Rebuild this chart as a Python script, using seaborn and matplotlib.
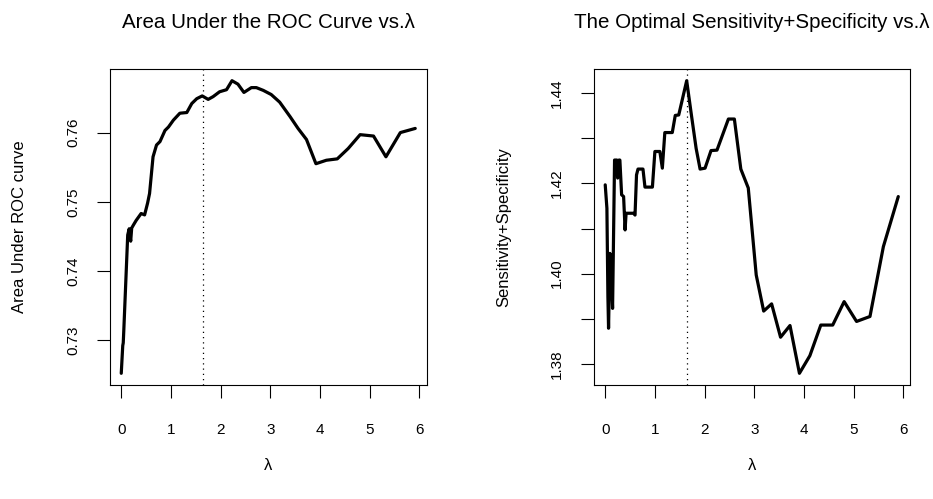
import numpy as np
import pandas as pd
import matplotlib
matplotlib.use("Agg")
import matplotlib.pyplot as plt
import seaborn as sns

# ---- data ----
lam_auc = [0.0, 0.03, 0.04, 0.05, 0.13, 0.16, 0.19, 0.21, 0.25, 0.30,
           0.35, 0.40, 0.47, 0.53, 0.57, 0.64, 0.71, 0.78, 0.88, 0.95,
           1.05, 1.18, 1.32, 1.42, 1.52, 1.63, 1.75, 1.85, 1.98, 2.12,
           2.23, 2.35, 2.47, 2.62, 2.72, 2.86, 3.02, 3.19, 3.40, 3.56,
           3.73, 3.92, 4.13, 4.35, 4.57, 4.81, 5.08, 5.33, 5.62, 5.92]
auc = [0.7252, 0.7292, 0.7296, 0.7312, 0.7452, 0.7461, 0.7443, 0.7462, 0.7467, 0.7473,
       0.7478, 0.7483, 0.7481, 0.7498, 0.7512, 0.7565, 0.7582, 0.7587, 0.7603, 0.7608,
       0.7618, 0.7628, 0.7629, 0.7642, 0.7649, 0.7653, 0.7648, 0.7652, 0.7659, 0.7662,
       0.7675, 0.7670, 0.7658, 0.7665, 0.7665, 0.7661, 0.7655, 0.7644, 0.7623, 0.7606,
       0.7590, 0.7555, 0.7560, 0.7562, 0.7577, 0.7597, 0.7595, 0.7565, 0.7600, 0.7606]

lam_ss = [0.0, 0.034, 0.054, 0.067, 0.094, 0.121, 0.148, 0.188, 0.235, 0.25,
          0.275, 0.295, 0.33, 0.37, 0.40, 0.42, 0.57, 0.60, 0.63, 0.66,
          0.76, 0.80, 0.95, 1.0, 1.1, 1.15, 1.2, 1.35, 1.41, 1.48,
          1.64, 1.73, 1.83, 1.91, 2.01, 2.13, 2.25, 2.48, 2.60, 2.73,
          2.88, 3.04, 3.19, 3.35, 3.53, 3.72, 3.91, 4.12, 4.34, 4.58,
          4.81, 5.06, 5.33, 5.60, 5.90]
ss = [1.4197, 1.4145, 1.3949, 1.3879, 1.4045, 1.4004, 1.3923, 1.4252, 1.4252, 1.4212,
      1.4252, 1.4252, 1.4175, 1.4171, 1.4097, 1.4134, 1.4134, 1.4130, 1.4219, 1.4232,
      1.4232, 1.4192, 1.4192, 1.4271, 1.4271, 1.4234, 1.4313, 1.4313, 1.4351, 1.4352,
      1.4428, 1.4356, 1.4278, 1.4232, 1.4234, 1.4273, 1.4274, 1.4343, 1.4343, 1.4232,
      1.4190, 1.3997, 1.3917, 1.3933, 1.3859, 1.3885, 1.3779, 1.3818, 1.3886, 1.3886,
      1.3938, 1.3894, 1.3905, 1.4060, 1.4171]

opt_lambda = 1.64

x_ticks = [0, 1, 2, 3, 4, 5, 6]
x_ticklabels = ["0", "1", "2", "3", "4", "5", "6"]
auc_ticks = [0.73, 0.74, 0.75, 0.76]
auc_ticklabels = ["0.73", "0.74", "0.75", "0.76"]
ss_ticks = [1.38, 1.39, 1.40, 1.41, 1.42, 1.43, 1.44]
ss_ticklabels = ["1.38", "", "1.40", "", "1.42", "", "1.44"]

titles = ["Area Under the ROC Curve vs.\u03bb",
          "The Optimal Sensitivity+Specificity vs.\u03bb"]
ylabels = ["Area Under ROC curve", "Sensitivity+Specificity"]
xlabel = "\u03bb"

# ---- style ----
sns.set_style("white")
plt.rcParams["font.family"] = ["Liberation Sans", "DejaVu Sans"]
plt.rcParams.update({"text.color": "black", "axes.labelcolor": "black",
                     "xtick.color": "black", "ytick.color": "black",
                     "axes.edgecolor": "black"})

W, H = 933, 499
fig = plt.figure(figsize=(W / 100, H / 100), dpi=100)

def px_axes(x0, y0, x1, y1):
    return fig.add_axes([x0 / W, 1 - y1 / H, (x1 - x0) / W, (y1 - y0) / H])

ax1 = px_axes(109.5, 69, 427, 385)
ax2 = px_axes(593.5, 69, 910, 385)

def r_lim(vals):
    lo, hi = min(vals), max(vals)
    pad = 0.04 * (hi - lo)
    return lo - pad, hi + pad

panels = [
    (ax1, lam_auc, auc, auc_ticks, auc_ticklabels, titles[0], ylabels[0]),
    (ax2, lam_ss, ss, ss_ticks, ss_ticklabels, titles[1], ylabels[1]),
]

for ax, lx, ly, yt, ytl, title, ylab in panels:
    df = pd.DataFrame({"lam": lx, "val": ly})
    sns.lineplot(data=df, x="lam", y="val", ax=ax, color="black",
                 linewidth=2.3, sort=False, estimator=None)
    ax.axvline(opt_lambda, color="black", linewidth=0.9, linestyle=(0, (1, 3.2)))
    ax.set_xlim(*r_lim(lx))
    ax.set_ylim(*r_lim(ly))
    ax.set_xticks(x_ticks)
    ax.set_xticklabels(x_ticklabels, fontsize=11, color="black")
    ax.set_yticks(yt)
    ax.set_yticklabels(ytl, fontsize=11, rotation=90, va="center", color="black")
    ax.tick_params(axis="both", direction="out", length=9.5, width=0.8,
                   color="black", labelcolor="black", bottom=True, left=True)
    ax.tick_params(axis="x", pad=17.5)
    ax.tick_params(axis="y", pad=11.5)
    for s in ax.spines.values():
        s.set_visible(True)
        s.set_color("black")
        s.set_linewidth(0.8)
    ax.set_xlabel("")
    ax.set_ylabel("")
    ax.set_facecolor("white")
    # title, axis labels placed like R's margin text
    bb = ax.get_position()
    cx = (bb.x0 + bb.x1) / 2
    cy = (bb.y0 + bb.y1) / 2
    fig.text(cx, 1 - 22 / H, title, ha="center", va="center", fontsize=14.8,
             color="black")
    fig.text(cx, 1 - 465 / H, xlabel, ha="center", va="center", fontsize=12,
             color="black")
    fig.text(bb.x0 - 89.5 / W, cy, ylab, ha="center", va="center",
             rotation=90, fontsize=12, color="black")

fig.savefig("out.png", dpi=100, facecolor="white")
